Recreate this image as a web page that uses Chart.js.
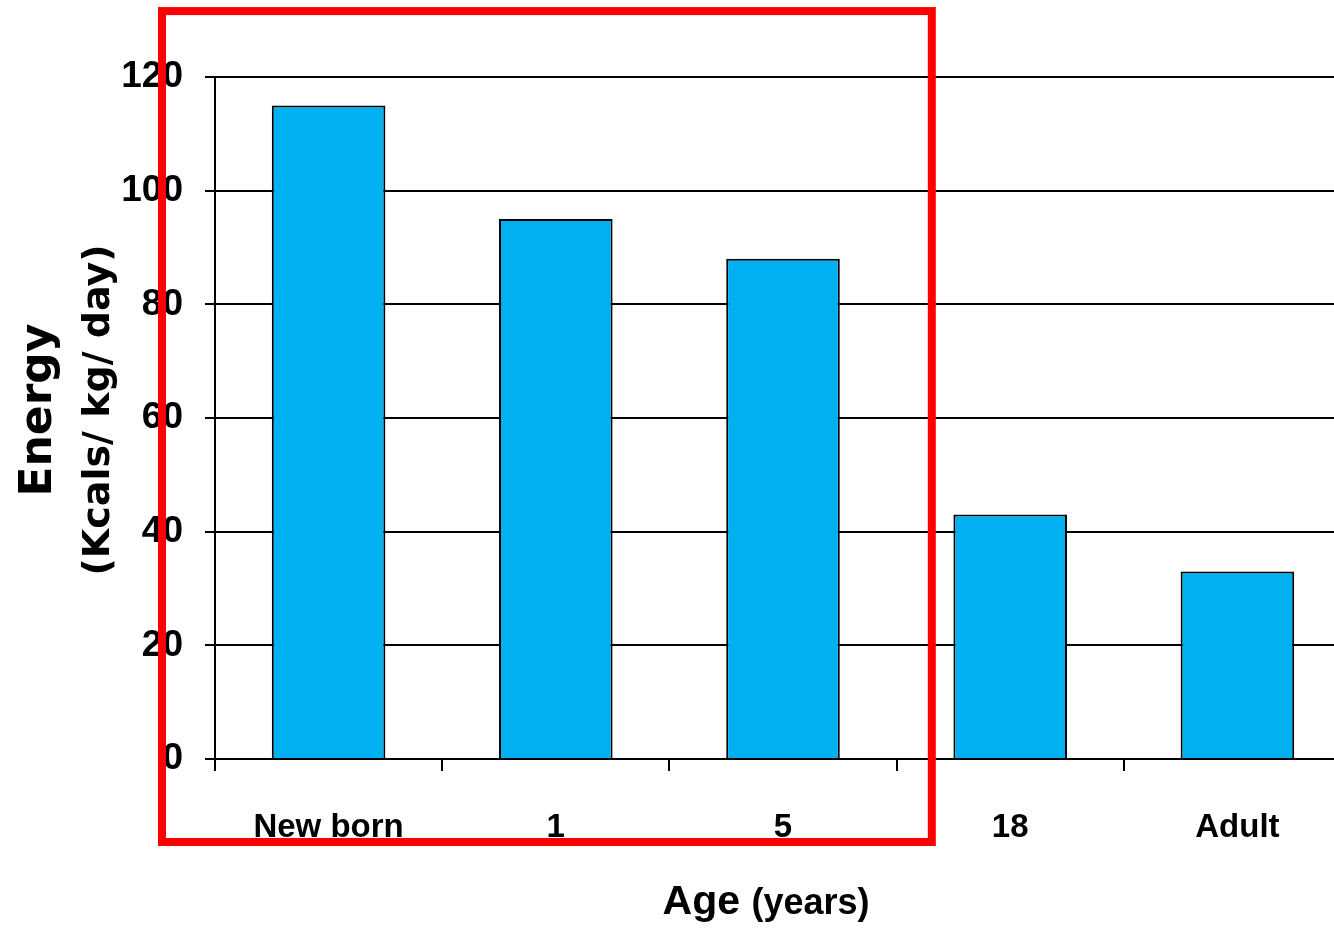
<!DOCTYPE html>
<html>
<head>
<meta charset="utf-8">
<script src="https://cdn.jsdelivr.net/npm/chart.js@4/dist/chart.umd.min.js"></script>
<style>
  html, body { margin: 0; padding: 0; background: #ffffff; overflow: hidden; }
  #wrap { position: relative; width: 1352px; height: 936px; }
</style>
</head>
<body>
<div id="wrap"><canvas id="chart"></canvas></div>
<script>
// Daily energy need per kilogram of body weight, by age group
const categories = ['New born', '1', '5', '18', 'Adult'];
const energyValues = [115, 95, 88, 43, 33];
const yTickValues = [0, 20, 40, 60, 80, 100, 120];

const yTitleMain = 'Energy';
const yTitleSub = '(Kcals/ kg/ day)';
const xTitleMain = 'Age';
const xTitleSub = '(years)';

const SANS = '"Liberation Sans", Arial, sans-serif';
const WIDE = '"DejaVu Sans", Verdana, sans-serif';

// Axis titles mixing two font sizes, plus the red highlight frame
const decorations = {
  id: 'decorations',
  afterDraw(chart) {
    const { ctx, chartArea, scales } = chart;
    const cy = (chartArea.top + chartArea.bottom) / 2 - 8;

    ctx.save();
    ctx.fillStyle = '#000000';

    // vertical title, two lines
    ctx.save();
    ctx.translate(51, cy);
    ctx.rotate(-Math.PI / 2);
    ctx.textAlign = 'center';
    ctx.textBaseline = 'alphabetic';
    ctx.font = 'bold 44px ' + WIDE;
    ctx.fillText(yTitleMain, 0, 0);
    ctx.restore();

    ctx.save();
    ctx.translate(109, cy);
    ctx.rotate(-Math.PI / 2);
    ctx.textAlign = 'center';
    ctx.textBaseline = 'alphabetic';
    ctx.font = 'bold 38px ' + WIDE;
    ctx.fillText(yTitleSub, 0, 0);
    ctx.restore();

    // horizontal title, large word followed by smaller unit
    ctx.textBaseline = 'alphabetic';
    ctx.textAlign = 'left';
    ctx.font = 'bold 41px ' + SANS;
    const w1 = ctx.measureText(xTitleMain + ' ').width;
    ctx.font = 'bold 36px ' + SANS;
    const w2 = ctx.measureText(xTitleSub).width;
    const cx = (chartArea.left + chartArea.right) / 2 - 17;
    const startX = cx - (w1 + w2) / 2;
    ctx.font = 'bold 41px ' + SANS;
    ctx.fillText(xTitleMain + ' ', startX, 914);
    ctx.font = 'bold 36px ' + SANS;
    ctx.fillText(xTitleSub, startX + w1, 914);

    // highlight frame around the first three age groups
    const x = scales.x, y = scales.y;
    const left = chartArea.left - 53;
    const right = x.getPixelForValue(2.655);
    const top = y.getPixelForValue(131.6);
    const bottom = y.getPixelForValue(-14.6);
    ctx.strokeStyle = '#ff0000';
    ctx.lineWidth = 8;
    ctx.strokeRect(left, top, right - left, bottom - top);
    ctx.restore();
  }
};

new Chart(document.getElementById('chart'), {
  type: 'bar',
  data: {
    labels: categories,
    datasets: [{
      data: energyValues,
      backgroundColor: '#00b0f0',
      borderColor: '#000000',
      borderWidth: 2,
      categoryPercentage: 0.5,
      barPercentage: 1.0
    }]
  },
  options: {
    responsive: true,
    maintainAspectRatio: false,
    animation: false,
    layout: { padding: { top: 77, right: 1, left: 0, bottom: 0 } },
    plugins: { legend: { display: false }, tooltip: { enabled: false } },
    scales: {
      x: {
        offset: true,
        grid: { drawOnChartArea: false, drawTicks: true, tickLength: 12, color: '#000000', lineWidth: 2, offset: true },
        border: { display: true, color: '#000000', width: 2 },
        ticks: {
          color: '#000000',
          padding: 37,
          maxRotation: 0,
          font: { family: SANS, size: 33, weight: 'bold' }
        },
        afterFit(scale) { scale.height = 177; }
      },
      y: {
        min: 0,
        max: 120,
        afterBuildTicks(scale) { scale.ticks = yTickValues.map(v => ({ value: v })); },
        grid: { drawTicks: true, tickLength: 10, color: '#000000', lineWidth: 2 },
        border: { display: true, color: '#000000', width: 2 },
        ticks: {
          color: '#000000',
          padding: 22,
          font: { family: SANS, size: 37, weight: 'bold' }
        },
        afterFit(scale) { scale.width = 215; }
      }
    }
  },
  plugins: [decorations]
});
</script>
</body>
</html>
